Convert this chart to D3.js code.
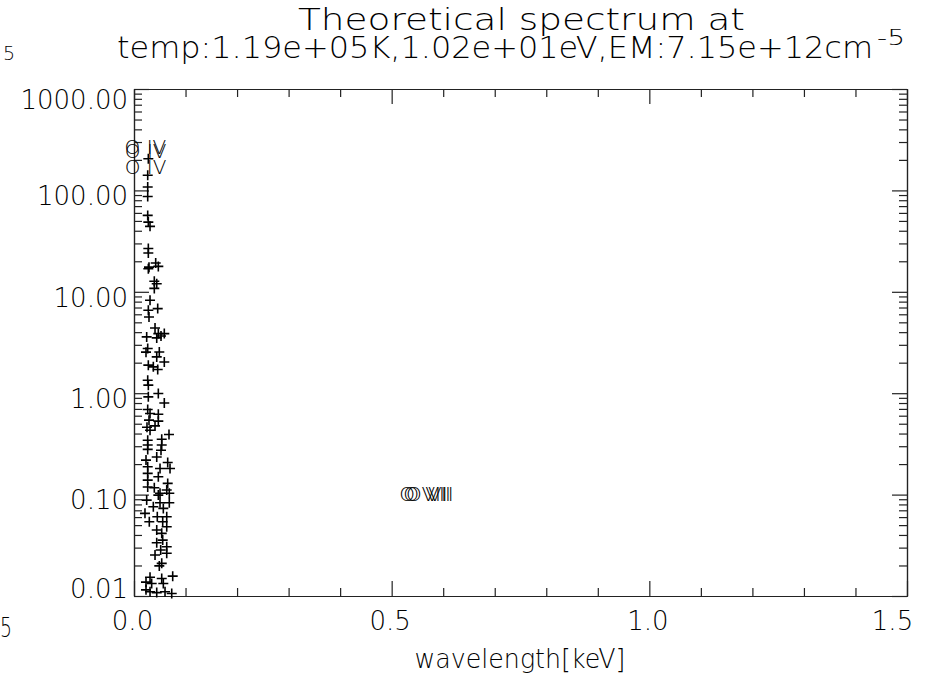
<!DOCTYPE html>
<html>
<head>
<meta charset="utf-8">
<script src="https://cdn.jsdelivr.net/npm/d3@7"></script>
<style>
  body { margin: 0; background: #fff; }
  text { font-family: "DejaVu Sans", sans-serif; font-weight: 200; fill: #000; }
</style>
</head>
<body>
<svg id="chart" width="933" height="678"></svg>
<script>
// Line energies [keV] and fluxes of the computed spectrum
const energy = [
  0.0278, 0.0266, 0.0266, 0.0266, 0.0266, 0.0278, 0.0311, 0.0278, 0.0278, 0.0421,
  0.0291, 0.0472, 0.0278, 0.0394, 0.0441, 0.0394, 0.0311, 0.0460, 0.0278, 0.0291,
  0.0408, 0.0472, 0.0588, 0.0246, 0.0524, 0.0441, 0.0266, 0.0491, 0.0441, 0.0588,
  0.0278, 0.0375, 0.0460, 0.0266, 0.0278, 0.0472, 0.0278, 0.0588, 0.0266, 0.0311,
  0.0472, 0.0291, 0.0472, 0.0408, 0.0311, 0.0679, 0.0266, 0.0538, 0.0266, 0.0538,
  0.0266, 0.0524, 0.0441, 0.0654, 0.0266, 0.0505, 0.0699, 0.0266, 0.0472, 0.0266,
  0.0654, 0.0266, 0.0394, 0.0635, 0.0505, 0.0685, 0.0472, 0.0246, 0.0505, 0.0685,
  0.0375, 0.0569, 0.0213, 0.0452, 0.0635, 0.0297, 0.0557, 0.0635, 0.0441, 0.0538,
  0.0557, 0.0441, 0.0635, 0.0518, 0.0635, 0.0408, 0.0538, 0.0491, 0.0311, 0.0751,
  0.0538, 0.0343, 0.0569, 0.0311, 0.0441, 0.0602, 0.0732, 0.0233, 0.0252, 0.0233,
  0.0233, 0.0233
];
const flux = [
  205, 141, 108, 87, 56.7, 48.7, 44.2, 26.7, 24.1, 19.2,
  17.5, 17.8, 16.9, 12.7, 12.0, 10.8, 8.24, 6.83, 6.57, 5.65,
  4.40, 3.87, 3.87, 3.59, 3.67, 3.51, 2.76, 2.55, 2.28, 2.03,
  1.89, 1.82, 1.71, 1.34, 1.20, 0.993, 0.920, 0.801, 0.690, 0.631,
  0.621, 0.542, 0.530, 0.476, 0.431, 0.392, 0.344, 0.352, 0.308, 0.308,
  0.279, 0.274, 0.235, 0.207, 0.188, 0.181, 0.181, 0.162, 0.150, 0.139,
  0.129, 0.119, 0.117, 0.111, 0.103, 0.103, 0.0989, 0.0883, 0.0830, 0.0830,
  0.0759, 0.0731, 0.0653, 0.0604, 0.0604, 0.0540, 0.0540, 0.0482, 0.0447, 0.0415,
  0.0356, 0.0335, 0.0306, 0.0284, 0.0264, 0.0254, 0.0210, 0.0198, 0.0153, 0.0157,
  0.0149, 0.0133, 0.0133, 0.0110, 0.0108, 0.0110, 0.0106, 2.54, 0.462, 0.219,
  0.0137, 0.0115
];

// Identified ion lines
const ionLabels = ["O IV", "O IV", "O IV", "O VII", "O VII", "O VII"];
const ionEnergy = [0.0222, 0.0227, 0.0223, 0.5610, 0.5686, 0.5740];
const ionFlux   = [260, 240, 165, 0.1, 0.1, 0.1];

// Axis ticks and labels
const xMajor = [0.0, 0.5, 1.0, 1.5];
const xMinor = [0.1, 0.2, 0.3, 0.4, 0.6, 0.7, 0.8, 0.9, 1.1, 1.2, 1.3, 1.4];
const yMajor = [0.01, 0.1, 1, 10, 100, 1000];
const yMinorSteps = [2, 3, 4, 5, 6, 7, 8, 9];

const titleLine1 = "Theoretical spectrum at";
const titleLine2 = "temp:1.19e+05K,1.02e+01eV,EM:7.15e+12cm";
const titleExp = "-5";
const xTitle = "wavelength[keV]";

const svg = d3.select("#chart");
const plotL = 134, plotR = 907, plotT = 89, plotB = 596;

const x = d3.scaleLinear().domain([0, 1.5]).range([plotL, plotR]);
const y = d3.scaleLog().domain([0.01, 1000]).range([plotB, plotT]);

const yMinor = [];
yMajor.slice(0, -1).forEach(d => yMinorSteps.forEach(k => yMinor.push(k * d)));

const majorLen = 15, minorLen = 8;
const axisColor = "#222";

function styleAxis(g) {
  g.selectAll("path.domain").attr("stroke", axisColor).attr("stroke-width", 1.2);
  g.selectAll(".tick line").attr("stroke", axisColor).attr("stroke-width", 1.2);
}
function styleLabels(sel) {
  sel.attr("font-size", 26).attr("font-family", "DejaVu Sans")
    .style("font-weight", 200).attr("fill", "#000");
}

// bottom axis with labels
const gBottom = svg.append("g").attr("transform", `translate(0,${plotB})`)
  .call(d3.axisBottom(x).tickValues(xMajor).tickSizeInner(-majorLen).tickSizeOuter(0)
    .tickPadding(16).tickFormat(d3.format(".1f")))
  .call(styleAxis);
gBottom.selectAll(".tick text").call(styleLabels)
  .attr("dx", d => (x(d) + 22 > plotR + 8 ? -15 : -2));
svg.append("g").attr("transform", `translate(0,${plotB})`)
  .call(d3.axisBottom(x).tickValues(xMinor).tickSizeInner(-minorLen).tickSizeOuter(0).tickFormat(""))
  .call(styleAxis);

// top axis (ticks only)
svg.append("g").attr("transform", `translate(0,${plotT})`)
  .call(d3.axisTop(x).tickValues(xMajor).tickSizeInner(-majorLen).tickSizeOuter(0).tickFormat(""))
  .call(styleAxis);
svg.append("g").attr("transform", `translate(0,${plotT})`)
  .call(d3.axisTop(x).tickValues(xMinor).tickSizeInner(-minorLen).tickSizeOuter(0).tickFormat(""))
  .call(styleAxis);

// left axis with labels
const gLeft = svg.append("g").attr("transform", `translate(${plotL},0)`)
  .call(d3.axisLeft(y).tickValues(yMajor).tickSizeInner(-majorLen).tickSizeOuter(0)
    .tickPadding(6).tickFormat(d3.format(".2f")))
  .call(styleAxis);
gLeft.selectAll(".tick text").call(styleLabels)
  .attr("dy", "0.36em")
  .attr("y", d => {
    const t = y(d);
    const c = Math.max(plotT + 10, Math.min(plotB - 8, t + 5));
    return c - t;
  });
svg.append("g").attr("transform", `translate(${plotL},0)`)
  .call(d3.axisLeft(y).tickValues(yMinor).tickSizeInner(-minorLen).tickSizeOuter(0).tickFormat(""))
  .call(styleAxis);

// right axis (ticks only)
svg.append("g").attr("transform", `translate(${plotR},0)`)
  .call(d3.axisRight(y).tickValues(yMajor).tickSizeInner(-majorLen).tickSizeOuter(0).tickFormat(""))
  .call(styleAxis);
svg.append("g").attr("transform", `translate(${plotR},0)`)
  .call(d3.axisRight(y).tickValues(yMinor).tickSizeInner(-minorLen).tickSizeOuter(0).tickFormat(""))
  .call(styleAxis);

// spectral lines as plus symbols
const pts = energy.map((e, i) => ({ e, f: flux[i] }));
svg.append("g").selectAll("path.pt").data(pts).join("path")
  .attr("class", "pt")
  .attr("transform", d => `translate(${x(d.e)},${y(d.f)})`)
  .attr("d", "M-5,0H5M0,-5V5")
  .attr("stroke", "#000").attr("stroke-width", 1.6).attr("fill", "none");

// ion identifications
svg.append("g").selectAll("text.ion").data(ionLabels).join("text")
  .attr("class", "ion")
  .attr("x", (d, i) => x(ionEnergy[i]))
  .attr("y", (d, i) => y(ionFlux[i]) + 6)
  .attr("text-anchor", "middle")
  .attr("font-size", 20)
  .text(d => d);

// title
svg.append("text").attr("x", 521.5).attr("y", 30).attr("text-anchor", "middle")
  .attr("font-size", 30).attr("textLength", 447).attr("lengthAdjust", "spacingAndGlyphs")
  .text(titleLine1);
svg.append("text").attr("x", 117).attr("y", 58)
  .attr("font-size", 30).attr("textLength", 756).attr("lengthAdjust", "spacingAndGlyphs")
  .text(titleLine2);
svg.append("text").attr("x", 877).attr("y", 45)
  .attr("font-size", 21).attr("textLength", 28).attr("lengthAdjust", "spacingAndGlyphs")
  .text(titleExp);

// x axis title
svg.append("text").attr("x", 520).attr("y", 668).attr("text-anchor", "middle")
  .attr("font-size", 27).attr("textLength", 211).attr("lengthAdjust", "spacingAndGlyphs")
  .text(xTitle);

// stray digits at the left margin
svg.append("text").attr("x", 3).attr("y", 60).attr("font-size", 19).text("5");
svg.append("text").attr("x", 0).attr("y", 637).attr("font-size", 26)
  .attr("textLength", 12).attr("lengthAdjust", "spacingAndGlyphs").text("5");
</script>
</body>
</html>
